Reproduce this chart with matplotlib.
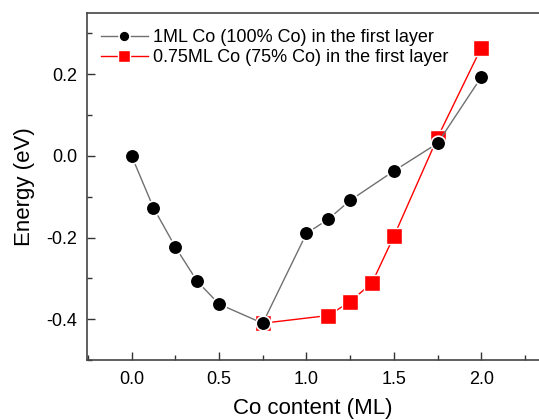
import matplotlib
matplotlib.use("Agg")
import matplotlib.pyplot as plt
from matplotlib.ticker import MultipleLocator

plt.rcParams['font.family'] = ['Liberation Sans', 'DejaVu Sans']

x_black = [0.0, 0.125, 0.25, 0.375, 0.5, 0.75, 1.0, 1.125, 1.25, 1.5, 1.75, 2.0]
y_black = [0.0, -0.127, -0.223, -0.307, -0.363, -0.41, -0.190, -0.155, -0.109, -0.037, 0.031, 0.193]
x_red = [0.75, 1.125, 1.25, 1.375, 1.5, 1.75, 2.0]
y_red = [-0.41, -0.391, -0.357, -0.311, -0.197, 0.045, 0.265]

label_black = "1ML Co (100% Co) in the first layer"
label_red = "0.75ML Co (75% Co) in the first layer"

fig = plt.figure(figsize=(5.39, 4.2), dpi=100)
ax = fig.add_axes([87/539, 60/420, 1 - 87/539, 347/420])

ax.plot(x_red, y_red, color='red', lw=1.0, marker='s', ms=12,
        mfc='red', mec='white', mew=1.0, label=label_red, zorder=2)
ax.plot(x_black, y_black, color='#707070', lw=1.0, marker='o', ms=10.5,
        mfc='black', mec='white', mew=1.2, label=label_black, zorder=3)

ax.set_xlim(-0.255, 2.33)
ax.set_ylim(-0.5, 0.35)
ax.xaxis.set_major_locator(MultipleLocator(0.5))
ax.xaxis.set_minor_locator(MultipleLocator(0.25))
ax.yaxis.set_major_locator(MultipleLocator(0.2))
ax.yaxis.set_minor_locator(MultipleLocator(0.1))
ax.xaxis.set_major_formatter(plt.FuncFormatter(lambda v, p: f"{v:.1f}"))
ax.yaxis.set_major_formatter(plt.FuncFormatter(lambda v, p: f"{v:.1f}"))
ax.tick_params(which='both', direction='in', colors='#333333', labelcolor='black', labelsize=13, width=1)
ax.tick_params(which='major', length=6)
ax.tick_params(which='minor', length=3.5)
ax.tick_params(axis='x', pad=8)
ax.tick_params(axis='y', pad=7)
ax.spines['right'].set_visible(False)
for s in ['left', 'bottom', 'top']:
    ax.spines[s].set_color('#444444')
    ax.spines[s].set_linewidth(1.2)

ax.set_xlabel("Co content (ML)", fontsize=16, labelpad=7)
ax.set_ylabel("Energy (eV)", fontsize=16, labelpad=8)

handles, labels = ax.get_legend_handles_labels()
leg = ax.legend(handles[::-1], labels[::-1], loc='upper left', frameon=False,
                fontsize=13, handlelength=2.6, handletextpad=0.3,
                borderaxespad=0.5, labelspacing=0.15, markerscale=0.75,
                bbox_to_anchor=(-0.005, 1.0))

fig.savefig("out.png", dpi=100)
